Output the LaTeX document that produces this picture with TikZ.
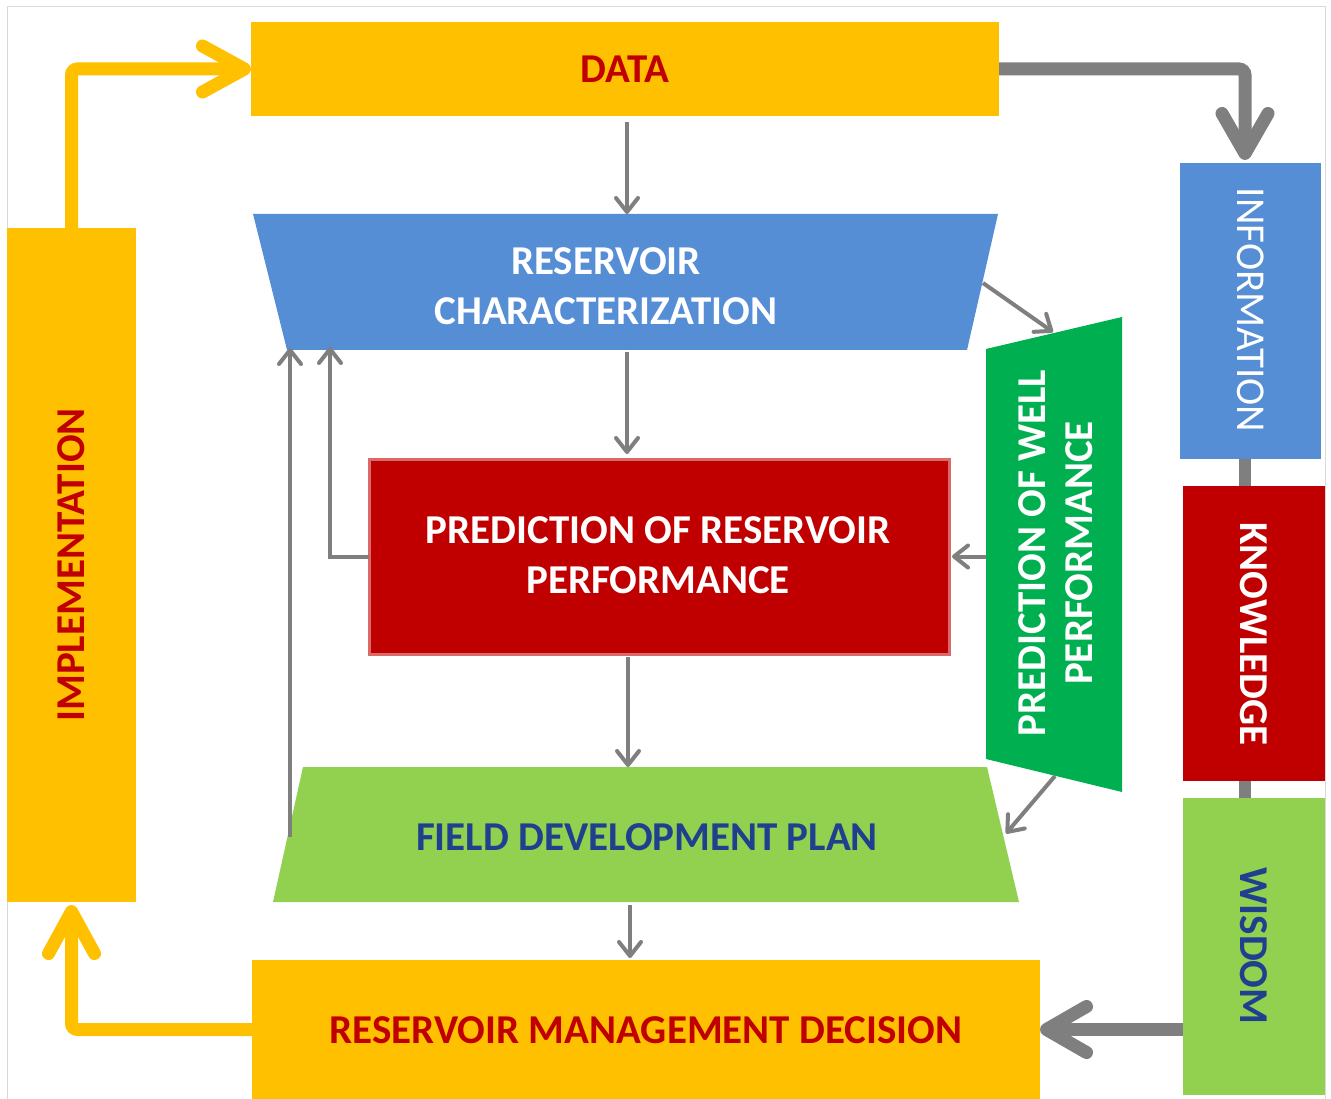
\documentclass[tikz,border=0pt]{standalone}
\usepackage{fontspec}
\setmainfont{Carlito}
\usetikzlibrary{arrows.meta,calc}
\definecolor{amber}{HTML}{FFC000}
\definecolor{deepred}{HTML}{C00000}
\definecolor{redrim}{HTML}{D86A6A}
\definecolor{skyblue}{HTML}{558ED5}
\definecolor{leaf}{HTML}{92D050}
\definecolor{emerald}{HTML}{00B050}
\definecolor{navy}{HTML}{1F3F8F}
\definecolor{steel}{HTML}{7F7F7F}
\definecolor{frame}{HTML}{D9D9D9}
\begin{document}
\begin{tikzpicture}[x=1pt,y=-1pt,
  block/.style={rectangle, inner sep=0pt, outer sep=0pt, draw=none},
  slot/.style={rectangle, inner sep=0pt, outer sep=0pt, draw=none, fill=none},
  caption/.style={font=\bfseries\fontsize{41}{50}\selectfont, align=center, inner sep=0pt},
  plaincaption/.style={font=\fontsize{41}{50}\selectfont, align=center, inner sep=0pt},
  thinarrow/.style={draw=steel, line width=4pt, -{Straight Barb[length=14pt,width=22pt,round]}},
  heavyarrow/.style={draw=steel, line width=13pt, rounded corners=6pt, -{Straight Barb[length=40pt,width=46pt,round]}},
  sunarrow/.style={draw=amber, line width=13pt, rounded corners=6pt, -{Straight Barb[length=42pt,width=46pt,round]}}]

\useasboundingbox (0,0) rectangle (1331,1099);
\fill[white] (0,0) rectangle (1331,1099);
\draw[frame, line width=1pt] (7,1099) -- (7,7) -- (1325,7) -- (1325,1099);

% ---- rectangular blocks ----
\node[block, fill=amber, minimum width=748pt, minimum height=94pt] (data) at (625,69) {};
\node[block, fill=amber, minimum width=129pt, minimum height=674pt] (impl) at (71.5,565) {};
\node[block, fill=amber, minimum width=788pt, minimum height=139pt] (rmd) at (646,1029.5) {};
\node[block, fill=deepred, draw=redrim, line width=3pt, minimum width=580pt, minimum height=195pt] (prp) at (659,556.5) {};

% ---- slanted blocks (outline boxes carry the names) ----
\node[slot, minimum width=745pt, minimum height=136pt] (rc) at (625.5,282) {};
\fill[skyblue] (rc.north west) -- (rc.north east) -- ($(rc.south east)+(-31,0)$) -- ($(rc.south west)+(34,0)$) -- cycle;
\node[slot, minimum width=746pt, minimum height=135pt] (fdp) at (646,834.5) {};
\fill[leaf] ($(fdp.north west)+(30,0)$) -- ($(fdp.north east)+(-32,0)$) -- (fdp.south east) -- (fdp.south west) -- cycle;
\node[slot, minimum width=136pt, minimum height=475pt] (pwp) at (1054,554.5) {};
\fill[emerald] ($(pwp.north west)+(0,32)$) -- (pwp.north east) -- (pwp.south east) -- ($(pwp.south west)+(0,-33)$) -- cycle;

% ---- right-hand column ----
\draw[steel, line width=12pt] (1245,459) -- (1245,798);
\node[block, fill=skyblue, minimum width=141pt, minimum height=296pt] (info) at (1250.5,311) {};
\node[block, fill=deepred, minimum width=142pt, minimum height=295pt] (know) at (1254,633.5) {};
\node[block, fill=leaf, minimum width=142pt, minimum height=297pt] (wisd) at (1254,946.5) {};

% ---- texts ----
\node[caption, text=deepred] at (data.center) {DATA};
\node[caption, text=deepred, rotate=90] at (impl.center) {IMPLEMENTATION};
\node[caption, text=deepred] at (646,1030) {RESERVOIR MANAGEMENT DECISION};
\node[caption, text=white] at (606,286) {RESERVOIR\\CHARACTERIZATION};
\node[caption, text=white] at (658,555) {PREDICTION OF RESERVOIR\\PERFORMANCE};
\node[caption, text=navy] at (647,837) {FIELD DEVELOPMENT PLAN};
\node[caption, text=white, rotate=90, font=\bfseries\fontsize{41}{47}\selectfont] at (1056,553) {PREDICTION OF WELL\\PERFORMANCE};
\node[plaincaption, text=white, rotate=-90] at (1251,310) {INFORMATION};
\node[caption, text=white, rotate=-90] at (1254,634) {KNOWLEDGE};
\node[caption, text=navy, rotate=-90] at (1254,946) {WISDOM};

% ---- feedback entry points on the lower edge of the characterization block ----
\coordinate (rc-in-a) at ($(rc.south west)+(77,-3)$);
\coordinate (rc-in-b) at ($(rc.south west)+(37,-2)$);
\coordinate (fdp-out) at ($(fdp.west)+(17,2)$);

% ---- thin connectors ----
\draw[thinarrow, shorten <=6pt] ($(data.south)+(2,0)$) -- ($(rc.north)+(1.5,0)$);
\draw[thinarrow, shorten <=2pt, shorten >=5pt] ($(rc.south)+(1.5,0)$) -- ($(rc.south |- prp.north)+(1.5,0)$);
\draw[thinarrow, shorten <=3pt] ($(rc.south |- prp.south)+(2.5,0)$) -- ($(rc.south |- fdp.north)+(2.5,0)$);
\draw[thinarrow, shorten <=3pt, shorten >=2pt] ($(rc.south |- fdp.south)+(4.5,0)$) -- ($(rc.south |- rmd.north)+(4.5,0)$);
\draw[thinarrow] ($(rc.east)+(-15,1)$) -- ($(pwp.north)+(-1,15)$);
\draw[thinarrow] ($(pwp.south)+(1,-16)$) -- ($(fdp.east)+(-13,-1)$);
\draw[thinarrow, shorten >=3pt] (pwp.west |- prp.east) -- (prp.east);
\draw[thinarrow] (prp.west) -| (rc-in-a);
\draw[thinarrow] (fdp-out) -- (fdp-out |- rc-in-b);

% ---- heavy loop connectors ----
\draw[heavyarrow] (data.east) -| ($(info.north)+(-5.5,-3)$);
\draw[heavyarrow] (wisd.west |- rmd.west) -- (rmd.east);
\draw[sunarrow] (impl.north) |- (data.west);
\draw[sunarrow] (rmd.west) -| ($(impl.south)+(0,3)$);
\end{tikzpicture}
\end{document}
